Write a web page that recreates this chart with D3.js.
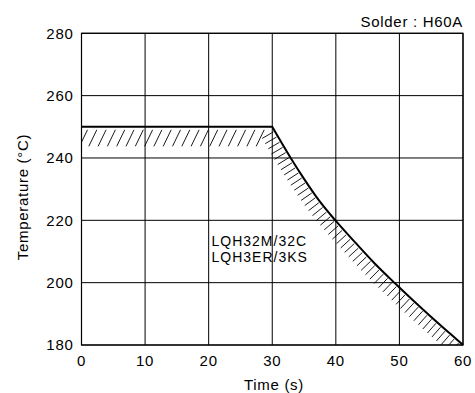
<!DOCTYPE html>
<html>
<head>
<meta charset="utf-8">
<script src="https://cdn.jsdelivr.net/npm/d3@7"></script>
<style>
  html, body { margin: 0; padding: 0; background: #fff; }
  svg { display: block; }
  text { font-family: "Liberation Sans", Arial, sans-serif; fill: #000; }
</style>
</head>
<body>
<svg id="chart" width="475" height="393"></svg>
<script>
// ---- data ----
const timeTicks = [0, 10, 20, 30, 40, 50, 60];
const tempTicks = [180, 200, 220, 240, 260, 280];
const flatTime = [0, 30];
const flatTemp = [250, 250];
const decayTime = [30, 32.9, 35, 37.2, 40, 43, 46, 49.3, 52, 55, 58, 60];
const decayTemp = [250, 240, 233.3, 226.8, 219.8, 213, 206.4, 199.8, 194.6, 189, 183.6, 180];
const partLabels = ["LQH32M/32C", "LQH3ER/3KS"];
const solderLabel = "Solder : H60A";
const xTitle = "Time (s)";
const yTitle = "Temperature (\u00B0C)";

// ---- layout ----
const svg = d3.select("#chart");
const x = d3.scaleLinear().domain([0, 60]).range([81.5, 463]);
const y = d3.scaleLinear().domain([180, 280]).range([345, 33.3]);
const fs = "15px";
const ls = "0.7px";

// clip
svg.append("defs").append("clipPath").attr("id", "plotclip")
  .append("rect")
  .attr("x", x(0)).attr("y", y(280))
  .attr("width", x(60) - x(0)).attr("height", y(180) - y(280));

// grid
const grid = svg.append("g").attr("stroke", "#000").attr("stroke-width", 1);
grid.selectAll(".vg").data(timeTicks).join("line")
  .attr("x1", d => x(d)).attr("x2", d => x(d))
  .attr("y1", y(280)).attr("y2", y(180));
grid.selectAll(".hg").data(tempTicks).join("line")
  .attr("x1", x(0)).attr("x2", x(60))
  .attr("y1", d => y(d)).attr("y2", d => y(d));

// hatch
const hatch = svg.append("g").attr("clip-path", "url(#plotclip)")
  .attr("stroke", "#000").attr("stroke-width", 0.9);

// flat part hatch: "/" strokes below the 250 line
const yFlat = y(flatTemp[0]);
const flatStarts = d3.range(x(flatTime[0]) + 6, x(flatTime[1]) - 1, 9.3);
hatch.selectAll(".fh").data(flatStarts).join("line")
  .attr("x1", d => d).attr("y1", yFlat + 3)
  .attr("x2", d => d - 8).attr("y2", yFlat + 19.5);

// decay curve
const decayPts = decayTime.map((t, i) => [x(t), y(decayTemp[i])]);
const decayLine = d3.line().curve(d3.curveMonotoneX);
const decayD = decayLine(decayPts);
const tmp = svg.append("path").attr("d", decayD).attr("fill", "none").attr("stroke", "none");
const node = tmp.node();
const total = node.getTotalLength();
const L = 14.5, step = 6;
const segs = [];
for (let s = 5; s < total - 1; s += step) {
  const p = node.getPointAtLength(s);
  const a = node.getPointAtLength(Math.max(0, s - 1));
  const b = node.getPointAtLength(Math.min(total, s + 1));
  let tx = b.x - a.x, ty = b.y - a.y;
  const n = Math.hypot(tx, ty); tx /= n; ty /= n;
  const nx = -ty, ny = tx; // points down-left
  segs.push({x1: p.x + nx * 1.5, y1: p.y + ny * 1.5, x2: p.x + nx * L, y2: p.y + ny * L});
}
hatch.selectAll(".ch").data(segs).join("line")
  .attr("x1", d => d.x1).attr("y1", d => d.y1)
  .attr("x2", d => d.x2).attr("y2", d => d.y2);
tmp.remove();

// frame
svg.append("rect")
  .attr("x", x(0)).attr("y", y(280))
  .attr("width", x(60) - x(0)).attr("height", y(180) - y(280))
  .attr("fill", "none").attr("stroke", "#000").attr("stroke-width", 1.2);

// limit line
const flatD = d3.line()(flatTime.map((t, i) => [x(t), y(flatTemp[i])]));
const fullD = flatD + "L" + decayD.slice(1);
svg.append("path").attr("d", fullD)
  .attr("fill", "none").attr("stroke", "#000").attr("stroke-width", 2)
  .attr("stroke-linejoin", "miter");

// axes tick labels
svg.append("g").selectAll("text").data(tempTicks).join("text")
  .attr("x", x(0) - 8).attr("y", d => y(d)).attr("dy", "0.35em")
  .attr("text-anchor", "end").style("font-size", fs).style("letter-spacing", ls)
  .text(d => d);
svg.append("g").selectAll("text").data(timeTicks).join("text")
  .attr("x", d => x(d)).attr("y", 365.5)
  .attr("text-anchor", "middle").style("font-size", fs).style("letter-spacing", ls)
  .text(d => d);

// titles
svg.append("text").attr("x", 274).attr("y", 389.5)
  .attr("text-anchor", "middle").style("font-size", fs).style("letter-spacing", ls)
  .text(xTitle);
svg.append("text").attr("transform", "translate(28,197) rotate(-90)")
  .attr("text-anchor", "middle").style("font-size", fs).style("letter-spacing", ls)
  .text(yTitle);
svg.append("text").attr("x", 463).attr("y", 27)
  .attr("text-anchor", "end").style("font-size", fs).style("letter-spacing", ls)
  .text(solderLabel);

// part label
svg.append("g").selectAll("text").data(partLabels).join("text")
  .attr("x", 211.5).attr("y", (d, i) => 246 + i * 15.5)
  .style("font-size", "14px").style("letter-spacing", "1px")
  .text(d => d);
</script>
</body>
</html>
